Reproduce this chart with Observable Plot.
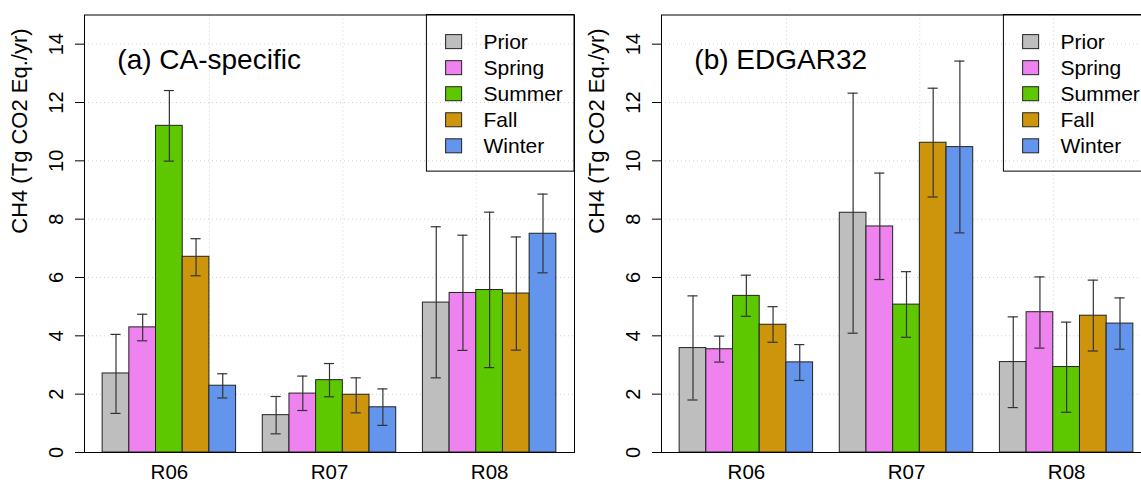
<!DOCTYPE html>
<html><head><meta charset="utf-8">
<script src="https://cdn.jsdelivr.net/npm/d3@7"></script>
<script src="https://cdn.jsdelivr.net/npm/@observablehq/plot@0.6"></script>
<style>
html,body{margin:0;padding:0;background:#fff;}
#wrap{position:relative;width:1141px;height:488px;overflow:hidden;background:#fff;}
.panel{position:absolute;top:0;width:577px;height:488px;}
.panel svg{max-width:none !important;display:block;}
</style></head><body><div id="wrap"></div>
<script>
const regions = ["R06", "R07", "R08"];
const seasons = ["Prior", "Spring", "Summer", "Fall", "Winter"];
const seasonColors = ["#bebebe", "#ee82ee", "#5dc800", "#cd950c", "#6495ed"];
const yTicks = [0, 2, 4, 6, 8, 10, 12, 14];
const yLabel = "CH4 (Tg CO2 Eq./yr)";

// (a) CA-specific — rows: R06, R07, R08; columns: seasons
const caValue = [[2.71, 4.29, 11.20, 6.71, 2.29], [1.28, 2.02, 2.48, 1.98, 1.55], [5.14, 5.47, 5.57, 5.45, 7.50]];
const caLow   = [[1.34, 3.83, 9.99, 6.06, 1.87], [0.64, 1.44, 1.91, 1.36, 0.93], [2.56, 3.50, 2.91, 3.51, 6.16]];
const caHigh  = [[4.05, 4.74, 12.41, 7.33, 2.70], [1.92, 2.62, 3.05, 2.56, 2.18], [7.74, 7.45, 8.24, 7.39, 8.86]];

// (b) EDGAR32
const edValue = [[3.58, 3.54, 5.37, 4.38, 3.09], [8.22, 7.75, 5.07, 10.62, 10.47], [3.10, 4.81, 2.93, 4.69, 4.42]];
const edLow   = [[1.80, 3.10, 4.67, 3.78, 2.47], [4.09, 5.93, 3.95, 8.76, 7.53], [1.54, 3.58, 1.38, 3.48, 3.54]];
const edHigh  = [[5.37, 3.99, 6.08, 5.00, 3.70], [12.32, 9.58, 6.20, 12.49, 13.42], [4.65, 6.02, 4.47, 5.91, 5.30]];

const FONT = "'Liberation Sans', Arial, Helvetica, sans-serif";

function panel(title, value, low, high) {
  const rows = [];
  regions.forEach((r, g) => seasons.forEach((s, i) => rows.push({
    region: r, season: s, value: value[g][i], low: low[g][i], high: high[g][i],
    x1: 1 + g * 6 + i, x2: 2 + g * 6 + i, xc: 1.5 + g * 6 + i
  })));
  const groupCenters = regions.map((r, g) => ({region: r, x: 3.5 + g * 6}));
  const legendRows = seasons.map((s, i) => ({season: s, y: 14.07 - i * 0.893}));
  const xMin = 0.32, xMax = 18.68, cap = 0.19;
  return Plot.plot({
    width: 577, height: 488,
    marginLeft: 84, marginRight: 3, marginTop: 14.5, marginBottom: 36,
    x: {domain: [xMin, xMax], axis: null},
    y: {domain: [0, 15], axis: null},
    color: {domain: seasons, range: seasonColors},
    style: {fontFamily: FONT, background: "white", color: "black", overflow: "visible"},
    marks: [
      Plot.ruleY(yTicks, {stroke: "#cfcfcf", strokeDasharray: "1,3"}),
      Plot.ruleX([5, 10, 15], {stroke: "#cfcfcf", strokeDasharray: "1,3"}),
      Plot.rect(rows, {x1: "x1", x2: "x2", y1: 0, y2: "value", fill: "season", stroke: "#222", strokeWidth: 1}),
      Plot.ruleX(rows, {x: "xc", y1: "low", y2: "high", stroke: "#333", strokeWidth: 1.2}),
      Plot.ruleY(rows, {y: "low", x1: d => d.xc - cap, x2: d => d.xc + cap, stroke: "#333", strokeWidth: 1.2}),
      Plot.ruleY(rows, {y: "high", x1: d => d.xc - cap, x2: d => d.xc + cap, stroke: "#333", strokeWidth: 1.2}),
      Plot.axisY({ticks: yTicks, tickSize: 9, tickFormat: () => "", label: null, stroke: "black"}),
      Plot.text(yTicks, {y: d => d, text: d => String(d), frameAnchor: "left", dx: -28, rotate: -90, fontSize: 20, textAnchor: "middle", lineAnchor: "middle"}),
      Plot.text([yLabel], {frameAnchor: "left", dx: -65, rotate: -90, fontSize: 22, lineAnchor: "middle"}),
      Plot.text(groupCenters, {x: "x", text: "region", frameAnchor: "bottom", dy: 20, fontSize: 20.5, lineAnchor: "middle"}),
      Plot.text([title], {x: 1.55, y: 13.47, textAnchor: "start", lineAnchor: "middle", fontSize: 28}),
      Plot.rect([0], {x1: 13.15, x2: xMax, y1: 9.63, y2: 15, fill: "none", stroke: "black"}),
      Plot.rect(legendRows, {x1: 13.87, x2: 14.47, y1: d => d.y - 0.24, y2: d => d.y + 0.24, fill: "season", stroke: "#222"}),
      Plot.text(legendRows, {x: 15.27, y: "y", text: "season", textAnchor: "start", lineAnchor: "middle", fontSize: 21}),
      Plot.frame({stroke: "black"})
    ]
  });
}

const wrap = document.getElementById("wrap");
[["(a) CA-specific", caValue, caLow, caHigh], ["(b) EDGAR32", edValue, edLow, edHigh]].forEach((p, k) => {
  const div = document.createElement("div");
  div.className = "panel";
  div.style.left = (k * 577) + "px";
  div.appendChild(panel(...p));
  wrap.appendChild(div);
});
</script>
</body></html>
